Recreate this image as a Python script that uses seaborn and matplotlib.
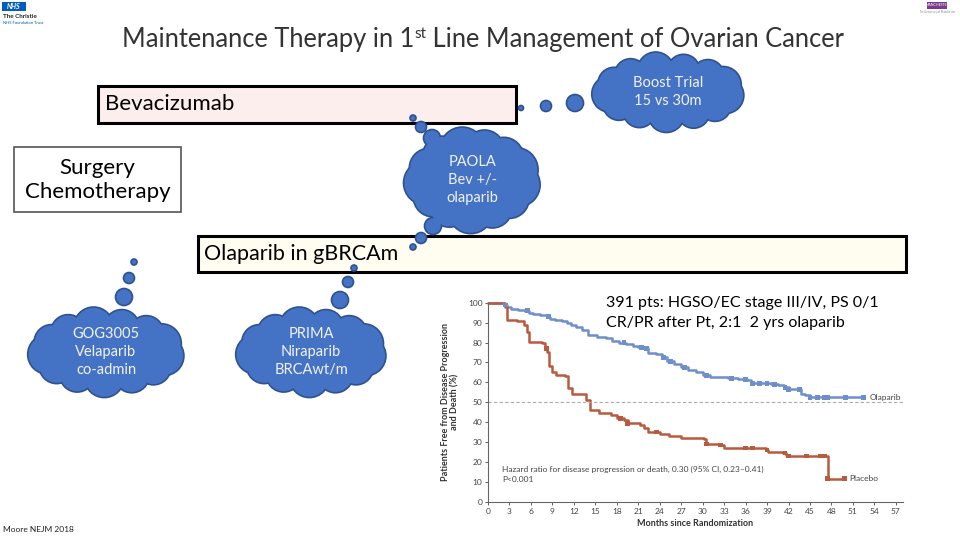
import numpy as np
import pandas as pd
import matplotlib
matplotlib.use('Agg')
import matplotlib.pyplot as plt
from matplotlib.patches import Rectangle, Circle, Ellipse
import seaborn as sns

# Kaplan-Meier data (months, % free from progression)
ola_t = [0, 2.3, 2.6, 3.2, 4.2, 5.2, 5.7, 6.3, 7.3, 8.2, 8.6, 9.3, 10.3, 11.0, 11.6, 12.3, 13.2, 14.0, 15.2,
         16.5, 17.3, 18.3, 19.3, 20.3, 21.0, 22.0, 22.3, 23.5, 24.3, 25.0, 26.0, 27.0, 28.0, 29.0, 30.0, 31.0,
         33.5, 35.0, 36.2, 36.8, 39.5, 40.5, 41.3, 42.0, 43.8, 44.3, 45.0, 52.5]
ola_s = [100, 99, 98, 97, 96.5, 96, 95, 94.5, 94, 93, 92, 91.5, 91, 90, 89, 88, 86.5, 84, 83,
         82.5, 81, 80, 79, 78, 77.5, 77, 74.5, 74, 72.5, 70.5, 69, 67.5, 66, 65, 63.5, 62.5,
         62, 61.5, 61, 59.5, 59, 58.5, 57.5, 56.5, 54, 53.5, 52.5, 52.5]
pla_t = [0, 2.4, 2.7, 4.0, 5.0, 5.5, 5.7, 7.5, 8.0, 8.3, 8.5, 9.0, 9.5, 10.8, 11.2, 11.7, 13.7, 14.2, 15.5,
         17.2, 18.0, 19.0, 19.5, 21.2, 21.8, 22.3, 24.0, 25.3, 27.0, 30.2, 30.5, 32.5, 33.0, 38.8, 39.2,
         41.2, 41.7, 42.0, 47.5, 49.8]
pla_s = [100, 98, 91.5, 91, 89, 85.5, 80.5, 80, 77, 75, 68, 65, 63.5, 63, 57, 54, 51, 46, 44.5,
         43.5, 42, 41, 39.5, 38.5, 37, 35, 34, 33, 32, 31.5, 29, 28.5, 27, 26, 25,
         24.5, 23.5, 23, 11.5, 11.5]
ola_cens = [2.5, 5.5, 8.5, 19.0, 21.5, 22.2, 24.5, 25.5, 27.5, 30.5, 34.0, 36.0, 37.0, 38.0, 39.0, 40.0,
            41.5, 42.0, 43.5, 45.0, 46.0, 47.0, 47.5, 50.0, 52.5]
pla_cens = [8.2, 18.5, 19.5, 23.5, 30.5, 32.5, 36.0, 37.0, 39.0, 41.5, 42.0, 44.5, 46.5, 47.0, 47.5, 49.8]

x_ticks = list(range(0, 58, 3))
y_ticks = list(range(0, 101, 10))

# thought-bubble clouds: label, centre, size
clouds = [
    ("Boost Trial\n15 vs 30m", (668, 92), (150, 78)),
    ("PAOLA\nBev +/-\nolaparib", (472, 180), (134, 104)),
    ("GOG3005\nVelaparib\nco-admin", (106, 352), (154, 88)),
    ("PRIMA\nNiraparib\nBRCAwt/m", (311, 352), (148, 88)),
]
bubbles = [(521, 108, 2.5), (546, 106, 5.5), (575, 103, 8.5),
           (413, 118, 3), (421, 127, 5.5), (432, 138, 8.5),
           (433, 226, 8.5), (421, 238, 5.5), (413, 247, 3),
           (134, 262, 3), (129, 278, 5.5), (124, 297, 8.5),
           (354, 268, 3), (348, 282, 5.5), (340, 300, 8.5)]

sns.set_theme(style='white')
plt.rcParams['font.family'] = ['Lato', 'DejaVu Sans']

BLUE = '#4472c4'
EDGE = '#2f528f'

fig = plt.figure(figsize=(9.6, 5.4), dpi=100)
ax = fig.add_axes([0, 0, 1, 1])
ax.set_xlim(0, 960)
ax.set_ylim(540, 0)
ax.axis('off')

# title with superscript
t1 = ax.text(122, 47, "Maintenance Therapy in 1", fontsize=18.4, va='baseline', color='#333333')
t2 = ax.annotate("st", xy=(1, 38), xycoords=(t1, 'data'), fontsize=11, va='baseline', color='#333333')
ax.annotate(" Line Management of Ovarian Cancer", xy=(1, 47), xycoords=(t2, 'data'), fontsize=18.4,
            va='baseline', color='#333333')

# logos
ax.add_patch(Rectangle((2, 2), 24, 9, facecolor='#005eb8', edgecolor='none'))
ax.text(14, 6.5, "NHS", color='white', fontsize=5, fontweight='bold', style='italic', ha='center', va='center')
ax.text(3, 17, "The Christie", fontsize=4.5, fontweight='bold', va='center', color='#222222')
ax.text(3, 23, "NHS Foundation Trust", fontsize=3, va='center', color='#005eb8')
ax.add_patch(Rectangle((927, 2), 20, 7, facecolor='#7b3b8c', edgecolor='none'))
ax.text(937, 5.5, "MANCHESTER", color='white', fontsize=2.5, ha='center', va='center')
ax.text(937, 12, "The University of Manchester", color='#888888', fontsize=2, ha='center', va='center')

# boxes
ax.add_patch(Rectangle((98, 86), 418, 37, facecolor='#fdeeee', edgecolor='black', linewidth=2.2))
ax.text(105, 104.5, "Bevacizumab", fontsize=16, va='center', color='black')
ax.add_patch(Rectangle((14, 147), 167, 65, facecolor='white', edgecolor='#555555', linewidth=1.2))
ax.text(97.5, 180, "Surgery\nChemotherapy", fontsize=16, ha='center', va='center', color='black', linespacing=1.2)
ax.add_patch(Rectangle((198, 236), 708, 36, facecolor='#fffdf0', edgecolor='black', linewidth=2.2))
ax.text(204, 254, "Olaparib in gBRCAm", fontsize=15.5, va='center', color='black')


def draw_cloud(cx, cy, w, h):
    r = 0.3 * min(w, h) / 2 + 5
    a, b = w / 2 - r, h / 2 - r
    ang = np.linspace(0, 2 * np.pi, 14)[:-1] + 0.15
    lobes = [(cx + a * np.cos(t), cy + b * np.sin(t), r * (0.92 + 0.12 * ((i % 3) == 0))) for i, t in enumerate(ang)]
    for x, y, rr in lobes:
        ax.add_patch(Circle((x, y), rr, facecolor=BLUE, edgecolor=EDGE, linewidth=2.4, zorder=3))
    for x, y, rr in lobes:
        ax.add_patch(Circle((x, y), rr, facecolor=BLUE, edgecolor='none', zorder=4))
    ax.add_patch(Ellipse((cx, cy), 2 * a + r, 2 * b + r, facecolor=BLUE, edgecolor='none', zorder=4))


for label, (cx, cy), (w, h) in clouds:
    draw_cloud(cx, cy, w, h)
    ax.text(cx, cy, label, color='#f2f2f2', fontsize=10.5, ha='center', va='center', zorder=5, linespacing=1.35)

for x, y, r in bubbles:
    ax.add_patch(Circle((x, y), r, facecolor=BLUE, edgecolor=EDGE, linewidth=1.2, zorder=3))

ax.text(606, 313, "391 pts: HGSO/EC stage III/IV, PS 0/1\nCR/PR after Pt, 2:1  2 yrs olaparib",
        fontsize=11.5, va='center', color='black', zorder=6, linespacing=1.55)
ax.text(3, 529, "Moore NEJM 2018", fontsize=6, va='center', color='#222222')

# Kaplan-Meier inset
km = fig.add_axes([488 / 960, 1 - 501.7 / 540, 415 / 960, 199 / 540])
km.set_facecolor('none')
ola_col = '#6f8fcb'
pla_col = '#b85a3e'
df_ola = pd.DataFrame({'t': ola_t, 's': ola_s})
df_pla = pd.DataFrame({'t': pla_t, 's': pla_s})
sns.lineplot(data=df_ola, x='t', y='s', drawstyle='steps-post', estimator=None, sort=False,
             color=ola_col, linewidth=1.8, ax=km, clip_on=False)
sns.lineplot(data=df_pla, x='t', y='s', drawstyle='steps-post', estimator=None, sort=False,
             color=pla_col, linewidth=1.8, ax=km, clip_on=False)


def step_at(ts, ss, x):
    i = np.searchsorted(ts, x, side='right') - 1
    return ss[i]


oc = pd.DataFrame({'t': ola_cens, 's': [step_at(ola_t, ola_s, x) for x in ola_cens]})
pc = pd.DataFrame({'t': pla_cens, 's': [step_at(pla_t, pla_s, x) for x in pla_cens]})
sns.scatterplot(data=oc, x='t', y='s', marker='s', s=12, color=ola_col, edgecolor='none', ax=km, zorder=5)
sns.scatterplot(data=pc, x='t', y='s', marker='s', s=12, color=pla_col, edgecolor='none', ax=km, zorder=5)

km.axhline(50, color='#aaaaaa', linestyle=(0, (3, 2)), linewidth=0.8)
km.set_xlim(0, 58)
km.set_ylim(0, 100)
km.set_xticks(x_ticks)
km.set_yticks(y_ticks)
km.tick_params(axis='both', labelsize=6, colors='#444444', length=2.5, width=0.6, pad=1.5, direction='out')
km.tick_params(axis='x', pad=2)
for s in ['top', 'right']:
    km.spines[s].set_visible(False)
for s in ['left', 'bottom']:
    km.spines[s].set_color('#666666')
    km.spines[s].set_linewidth(0.8)
km.xaxis.set_ticks_position('bottom')
km.yaxis.set_ticks_position('left')
km.set_xlabel("Months since Randomization", fontsize=6.5, fontweight='bold', color='#333333', labelpad=3)
km.set_ylabel("Patients Free from Disease Progression\nand Death (%)", fontsize=6.5, fontweight='bold',
              color='#333333', labelpad=6, linespacing=1.1)
km.text(53.3, 52.5, "Olaparib", fontsize=6, color='#444444', va='center')
km.text(50.5, 11.5, "Placebo", fontsize=6, color='#444444', va='center')
km.text(2, 13.5, "Hazard ratio for disease progression or death, 0.30 (95% CI, 0.23\u20130.41)\nP<0.001",
        fontsize=6, color='#444444', va='center', linespacing=1.5)

fig.savefig('out.png', dpi=100)
